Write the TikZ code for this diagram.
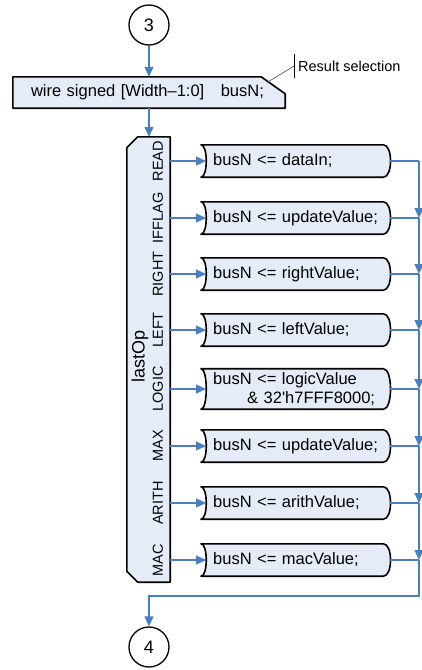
\documentclass[tikz,border=0pt]{standalone}
\usepackage{fontspec}
\setmainfont{Liberation Sans}
\usetikzlibrary{arrows.meta,calc,backgrounds}

\definecolor{flowblue}{RGB}{74,126,193}
\definecolor{boxfill}{RGB}{230,236,247}

\tikzset{
  flow/.style={draw=flowblue,line width=1.3pt,-{Triangle[length=10pt,width=9pt]}},
  busline/.style={draw=flowblue,line width=1.3pt},
  outline/.style={draw=black,line width=1.6pt,fill=boxfill,line join=round},
  conn/.style={circle,draw,fill=white,line width=1.3pt,minimum size=40pt,inner sep=0pt,
    font=\fontsize{18}{20}\selectfont},
  casebox/.style={anchor=west,inner xsep=12pt,inner ysep=3.5pt,text width=165pt,
    minimum height=32pt,align=left,font=\fontsize{16.5}{19}\selectfont},
  oplab/.style={rotate=90,inner sep=0pt,font=\fontsize{14.5}{16}\selectfont},
}

\begin{document}
\begin{tikzpicture}[x=1pt,y=-1pt]
  \useasboundingbox (0,0) rectangle (422,670);

  % entry and exit connectors
  \node[conn] (c3) at (149,25) {3};
  \node[conn] (c4) at (149,647) {4};

  % declaration box with cut corner
  \node[inner xsep=18pt,text width=236pt,minimum height=31pt,align=left,
    font=\fontsize{16.5}{19}\selectfont] (decl) at (149,92.5)
    {wire signed [Width--1:0]\quad busN;};
  \begin{scope}[on background layer]
    \path[outline] (decl.north west) -- ($(decl.north east)+(-24,0)$)
      -- ($(decl.north east)+(0,17)$) -- (decl.south east) -- (decl.south west) -- cycle;
  \end{scope}

  % comment flag
  \node[anchor=west,inner xsep=4pt,font=\fontsize{14.5}{16}\selectfont] (note) at (294,66) {Result selection};
  \draw[line width=0.8pt] ($(note.west)+(0,-12)$) -- ($(note.west)+(0,12)$);
  \draw[black!70,line width=0.6pt] ($(decl.north east)+(-17,5)$) -- (note.west);

  % case selector on lastOp
  \node[minimum width=43pt,minimum height=445pt,inner sep=0pt] (op) at (148.5,359.5) {};
  \begin{scope}[on background layer]
    \path[outline] ($(op.north west)+(0,11)$) -- ($(op.north west)+(11,0)$)
      -- (op.north east) -- (op.south east) -- ($(op.south west)+(11,0)$)
      -- ($(op.south west)+(0,-11)$) -- cycle;
  \end{scope}
  \node[rotate=90,inner sep=0pt,font=\fontsize{18}{20}\selectfont] (opname) at (140,356) {lastOp};

  \draw[flow] (c3) -- (decl);
  \draw[flow] (decl.south) -- (decl.south |- op.north);

  \coordinate (bus) at (419,0);

  % one branch per operation
  \foreach \nm/\lab/\yy/\txt in {
      Read/READ/161/{busN <= dataIn;},
      Ifflag/IFFLAG/218/{busN <= updateValue;},
      Right/RIGHT/274/{busN <= rightValue;},
      Left/LEFT/330/{busN <= leftValue;},
      Logic/LOGIC/389/{busN <= logicValue\\\hspace*{34pt}\& 32\textquotesingle h7FFF8000;},
      Max/MAX/446/{busN <= updateValue;},
      Arith/ARITH/503/{busN <= arithValue;},
      Mac/MAC/560/{busN <= macValue;}} {
    \node[casebox,minimum width=189pt] (c\nm) at (201,\yy) {\txt};
    \begin{scope}[on background layer]
      \path[outline] (c\nm.north west) -- ($(c\nm.north east)+(-7,0)$)
        .. controls ($(c\nm.north east)+(2.5,0)$) and ($(c\nm.south east)+(2.5,0)$)
        .. ($(c\nm.south east)+(-7,0)$) -- (c\nm.south west)
        .. controls ($(c\nm.south west)+(7,0)$) and ($(c\nm.north west)+(7,0)$)
        .. cycle;
    \end{scope}
    \node[oplab] (l\nm) at (158,\yy) {\lab};
    \draw[flow] (op.east |- c\nm.west) -- ($(c\nm.west)+(5,0)$);
    \draw[busline] (c\nm.east) -- (c\nm.east -| bus);
  }

  % collecting bus
  \foreach \a/\b in {Read/Ifflag,Ifflag/Right,Right/Left,Left/Logic,Logic/Max,Max/Arith,Arith/Mac}
    \draw[flow] (c\a.east -| bus) -- (c\b.east -| bus);
  \draw[flow] (cMac.east -| bus) -- ++(0,36) -| (c4);

\end{tikzpicture}
\end{document}
